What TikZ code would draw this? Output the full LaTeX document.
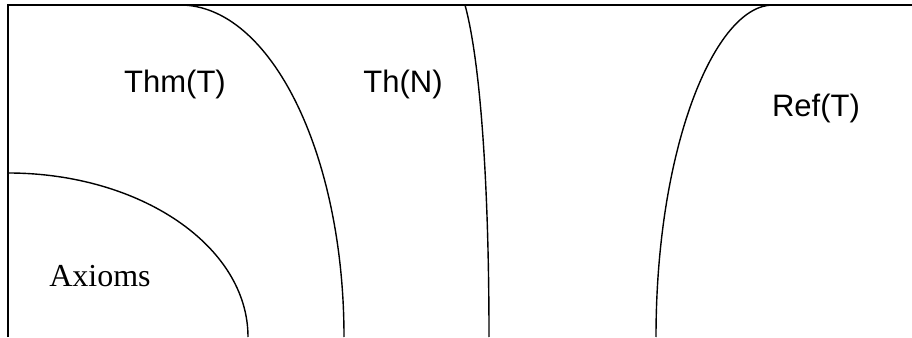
\documentclass[tikz,border=0pt]{standalone}
\usepackage{fontspec}
\setmainfont{Liberation Serif}
\setsansfont{Liberation Sans}
\usepackage{tikz}

\begin{document}
\begin{tikzpicture}[x=1pt,y=1pt,line width=1.4pt,
  setlabel/.style={anchor=base,inner sep=0pt,font=\sffamily\fontsize{31}{36}\selectfont},
  axlabel/.style={anchor=base,inner sep=0pt,font=\rmfamily\fontsize{32}{38}\selectfont}]
\useasboundingbox (0,0) rectangle (912,337);
% frame: left and top edges only
\coordinate (corner) at (8,332);
\draw[line width=1.6pt] (8,0) -- (corner) -- (912,332);
% the nested regions
\draw (8,164) arc[start angle=90,end angle=0,x radius=240,y radius=164];
\draw (180,332) arc[start angle=90,end angle=0,x radius=164,y radius=332];
\draw (465,332) .. controls (480,277) and (489,157) .. (489,0);
\draw (773,332) .. controls (715,332) and (656,190) .. (656,0);
% labels
\node[axlabel] (axioms) at (100,50) {Axioms};
\node[setlabel] (thm) at (175,244) {Thm(T)};
\node[setlabel] (thn) at (403,244) {Th(N)};
\node[setlabel] (ref) at (816,220) {Ref(T)};
\end{tikzpicture}
\end{document}
